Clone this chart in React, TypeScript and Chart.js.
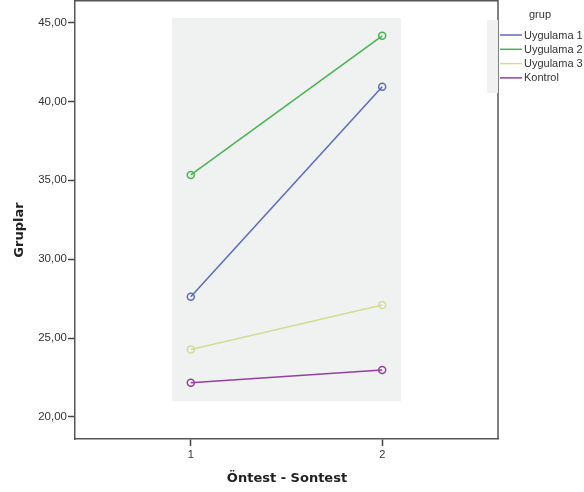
import React, { useEffect, useRef } from "react";
import { Chart, registerables } from "chart.js";

Chart.register(...registerables);

// Measurement occasions (1 = Öntest, 2 = Sontest)
const occasions = [1, 2];
const groupNames = ["Uygulama 1", "Uygulama 2", "Uygulama 3", "Kontrol"];
const uygulama1 = [27.62, 40.93];
const uygulama2 = [35.34, 44.16];
const uygulama3 = [24.28, 27.09];
const kontrol = [22.17, 22.98];
const yTicks = [20, 25, 30, 35, 40, 45];
const xTicks = [1, 2];
const groupColors = ["#5b6bbd", "#47b452", "#d3db94", "#93409f"];

const FONT = "'Liberation Sans', Arial, sans-serif";

// Grey background panel behind the lines, plus frame, titles and legend
const decorPlugin = {
  id: "decor",
  beforeDatasetsDraw(chart: any) {
    const { ctx, scales } = chart;
    const x = scales.x;
    const y = scales.y;
    const l = x.getPixelForValue(0.902);
    const r = x.getPixelForValue(2.098);
    const t = y.getPixelForValue(45.29);
    const b = y.getPixelForValue(20.99);
    ctx.save();
    ctx.fillStyle = "#f0f1f1";
    ctx.fillRect(l, t, r - l, b - t);
    ctx.restore();
  },
  afterDraw(chart: any) {
    const { ctx, chartArea } = chart;
    ctx.save();
    // frame top and right
    ctx.strokeStyle = "#555555";
    ctx.lineWidth = 1.5;
    ctx.beginPath();
    ctx.moveTo(chartArea.left, chartArea.top + 0.75);
    ctx.lineTo(chartArea.right, chartArea.top + 0.75);
    ctx.lineTo(chartArea.right, chartArea.bottom);
    ctx.stroke();

    // axis titles
    ctx.fillStyle = "#222222";
    ctx.font = "bold 13px 'DejaVu Sans', sans-serif";
    ctx.textAlign = "center";
    ctx.textBaseline = "middle";
    ctx.fillText("Öntest - Sontest", 287, 479);
    ctx.save();
    ctx.translate(20, 230);
    ctx.rotate(-Math.PI / 2);
    ctx.fillText("Gruplar", 0, 0);
    ctx.restore();

    // legend
    ctx.fillStyle = "#f1f1f1";
    ctx.fillRect(487, 20, 11, 73);
    ctx.fillStyle = "#333333";
    ctx.font = `11px ${FONT}`;
    ctx.textAlign = "center";
    ctx.fillText("grup", 540, 15);
    ctx.textAlign = "left";
    groupNames.forEach((name, i) => {
      const yy = 35 + i * 14.3;
      ctx.strokeStyle = groupColors[i];
      ctx.lineWidth = 1.5;
      ctx.beginPath();
      ctx.moveTo(500, yy);
      ctx.lineTo(522, yy);
      ctx.stroke();
      ctx.fillStyle = "#333333";
      ctx.fillText(name, 524, yy + 0.5);
    });
    ctx.restore();
  },
};

export default function App() {
  const canvasRef = useRef<HTMLCanvasElement | null>(null);

  useEffect(() => {
    const canvas = canvasRef.current;
    if (!canvas) return;
    const series = [uygulama1, uygulama2, uygulama3, kontrol];
    const chart = new Chart(canvas, {
      type: "line",
      data: {
        datasets: series.map((vals, i) => ({
          label: groupNames[i],
          data: occasions.map((o, j) => ({ x: o, y: vals[j] })),
          borderColor: groupColors[i],
          backgroundColor: "transparent",
          borderWidth: 1.5,
          pointRadius: 3.5,
          pointBorderWidth: 1.5,
          pointBackgroundColor: "transparent",
          pointBorderColor: groupColors[i],
          tension: 0,
        })),
      },
      options: {
        responsive: false,
        animation: false,
        events: [],
        layout: { autoPadding: false, padding: { left: 0, right: 86, top: 0, bottom: 0 } },
        plugins: {
          legend: { display: false },
          tooltip: { enabled: false },
        },
        scales: {
          x: {
            type: "linear",
            min: 0.395,
            max: 2.605,
            afterBuildTicks: (s: any) => {
              s.ticks = xTicks.map((v) => ({ value: v }));
            },
            afterFit: (s: any) => {
              s.height = 53;
              s.paddingLeft = 0;
              s.paddingRight = 0;
            },
            grid: {
              drawOnChartArea: false,
              drawTicks: true,
              tickLength: 7,
              tickWidth: 1.5,
              tickColor: "#444444",
            },
            border: { display: true, color: "#555555", width: 1.5 },
            ticks: {
              padding: 2,
              color: "#333333",
              font: { family: FONT, size: 11 },
              callback: (v: any) => String(v),
            },
          },
          y: {
            type: "linear",
            min: 18.6,
            max: 46.43,
            afterBuildTicks: (s: any) => {
              s.ticks = yTicks.map((v) => ({ value: v }));
            },
            afterFit: (s: any) => {
              s.width = 75;
              s.paddingTop = 0;
              s.paddingBottom = 0;
            },
            grid: {
              drawOnChartArea: false,
              drawTicks: true,
              tickLength: 7,
              tickWidth: 1.5,
              tickColor: "#444444",
            },
            border: { display: true, color: "#555555", width: 1.5 },
            ticks: {
              padding: 1,
              color: "#333333",
              font: { family: FONT, size: 11.5 },
              callback: (v: any) => Number(v).toFixed(2).replace(".", ","),
            },
          },
        },
      },
      plugins: [decorPlugin],
    });
    return () => chart.destroy();
  }, []);

  return (
    <div style={{ position: "absolute", left: 0, top: 0, width: 584, height: 492, background: "#ffffff" }}>
      <canvas ref={canvasRef} width={584} height={492} style={{ width: 584, height: 492 }} />
    </div>
  );
}
